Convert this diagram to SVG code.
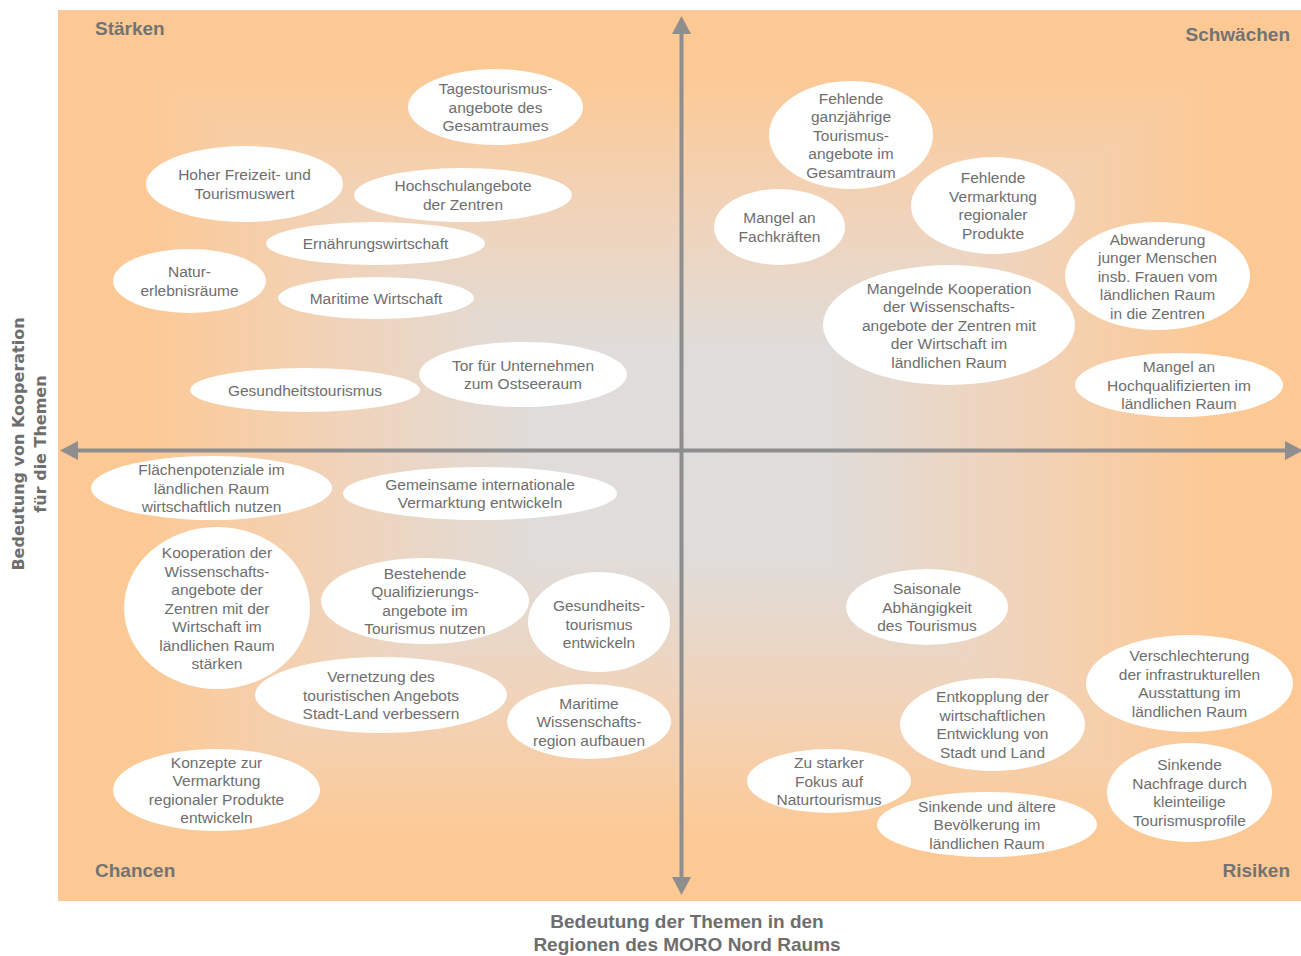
<svg xmlns="http://www.w3.org/2000/svg" width="1301" height="956" viewBox="0 0 1301 956">
<defs>
<style>
.node ellipse{fill:#ffffff;stroke:none}
.node text{font-family:"Liberation Sans",Arial,sans-serif;font-size:15.5px;fill:#6e6e6e;text-anchor:middle}
.quad{font-family:"Liberation Sans",Arial,sans-serif;font-size:19px;font-weight:bold;fill:#737373}
.axlab{font-family:"Liberation Sans",Arial,sans-serif;font-size:19px;font-weight:bold;fill:#6e6e6e;text-anchor:middle}
.axlabv{font-family:"DejaVu Sans",Verdana,sans-serif;font-size:16px;font-weight:bold;fill:#6e6e6e;text-anchor:middle}
.axis{stroke:#8e8e8e;stroke-width:4;fill:none}
</style>
<linearGradient id="gT" gradientUnits="userSpaceOnUse" x1="0" y1="10" x2="0" y2="455.5">
<stop offset="0" stop-color="#fdc894"/><stop offset="0.14" stop-color="#fcc995"/><stop offset="0.45" stop-color="#f1d3b9"/><stop offset="0.76" stop-color="#e0dcd9"/><stop offset="1" stop-color="#dfdddb"/>
</linearGradient>
<linearGradient id="gB" gradientUnits="userSpaceOnUse" x1="0" y1="901" x2="0" y2="455.5">
<stop offset="0" stop-color="#fdc894"/><stop offset="0.14" stop-color="#fcc995"/><stop offset="0.45" stop-color="#f1d3b9"/><stop offset="0.76" stop-color="#e0dcd9"/><stop offset="1" stop-color="#dfdddb"/>
</linearGradient>
<linearGradient id="gL" gradientUnits="userSpaceOnUse" x1="58" y1="0" x2="679.5" y2="0">
<stop offset="0" stop-color="#fdc894"/><stop offset="0.14" stop-color="#fcc995"/><stop offset="0.45" stop-color="#f1d3b9"/><stop offset="0.76" stop-color="#e0dcd9"/><stop offset="1" stop-color="#dfdddb"/>
</linearGradient>
<linearGradient id="gR" gradientUnits="userSpaceOnUse" x1="1301" y1="0" x2="679.5" y2="0">
<stop offset="0" stop-color="#fdc894"/><stop offset="0.14" stop-color="#fcc995"/><stop offset="0.45" stop-color="#f1d3b9"/><stop offset="0.76" stop-color="#e0dcd9"/><stop offset="1" stop-color="#dfdddb"/>
</linearGradient>
<radialGradient id="gBase" cx="0.5" cy="0.5" r="0.55">
<stop offset="0.3" stop-color="#dfdddb"/><stop offset="1" stop-color="#fdc894"/>
</radialGradient>
<marker id="arr" markerUnits="userSpaceOnUse" markerWidth="20" markerHeight="20" viewBox="0 -10 18 20" refX="0" refY="0" orient="auto-start-reverse">
<path d="M0,-9.5 L18,0 L0,9.5 Z" fill="#8e8e8e"/>
</marker>
</defs>

<g id="background">
<rect x="58" y="10" width="1243" height="891" fill="url(#gBase)"/>
<polygon points="58,10 1301,10 679.5,455.5" fill="url(#gT)"/>
<polygon points="58,901 1301,901 679.5,455.5" fill="url(#gB)"/>
<polygon points="58,10 58,901 679.5,455.5" fill="url(#gL)"/>
<polygon points="1301,10 1301,901 679.5,455.5" fill="url(#gR)"/>
</g>

<g id="axes">
<line class="axis" x1="681.5" y1="877" x2="681.5" y2="34" marker-start="url(#arr)" marker-end="url(#arr)"/>
<line class="axis" x1="78" y1="450.5" x2="1285" y2="450.5" marker-start="url(#arr)" marker-end="url(#arr)"/>
</g>

<g id="labels">
<text class="quad" x="95" y="35">Stärken</text>
<text class="quad" x="1290" y="41" text-anchor="end">Schwächen</text>
<text class="quad" x="95" y="877">Chancen</text>
<text class="quad" x="1290" y="877" text-anchor="end">Risiken</text>
<text class="axlab" x="687" y="928">Bedeutung der Themen in den</text>
<text class="axlab" x="687" y="951">Regionen des MORO Nord Raums</text>
<text class="axlabv" transform="translate(24,444) rotate(-90)" x="0" y="0">Bedeutung von Kooperation</text>
<text class="axlabv" transform="translate(46,444) rotate(-90)" x="0" y="0">für die Themen</text>
</g>

<g id="n1" class="node"><ellipse cx="495.5" cy="107" rx="87.5" ry="38"/><text><tspan x="495.5" y="94">Tagestourismus-</tspan><tspan x="495.5" y="112.5">angebote des</tspan><tspan x="495.5" y="131">Gesamtraumes</tspan></text></g>
<g id="n2" class="node"><ellipse cx="244.5" cy="184" rx="98.5" ry="38"/><text><tspan x="244.5" y="180.25">Hoher Freizeit- und</tspan><tspan x="244.5" y="198.75">Tourismuswert</tspan></text></g>
<g id="n3" class="node"><ellipse cx="463" cy="195" rx="109" ry="27"/><text><tspan x="463" y="191.25">Hochschulangebote</tspan><tspan x="463" y="209.75">der Zentren</tspan></text></g>
<g id="n4" class="node"><ellipse cx="375.5" cy="243.5" rx="109.5" ry="21.5"/><text x="375.5" y="249">Ernährungswirtschaft</text></g>
<g id="n5" class="node"><ellipse cx="189.5" cy="281" rx="76.5" ry="32"/><text><tspan x="189.5" y="277.25">Natur-</tspan><tspan x="189.5" y="295.75">erlebnisräume</tspan></text></g>
<g id="n6" class="node"><ellipse cx="376" cy="298" rx="98" ry="21"/><text x="376" y="303.5">Maritime Wirtschaft</text></g>
<g id="n7" class="node"><ellipse cx="305" cy="390" rx="115" ry="22"/><text x="305" y="395.5">Gesundheitstourismus</text></g>
<g id="n8" class="node"><ellipse cx="523" cy="374.5" rx="104" ry="32.5"/><text><tspan x="523" y="370.75">Tor für Unternehmen</tspan><tspan x="523" y="389.25">zum Ostseeraum</tspan></text></g>
<g id="n9" class="node"><ellipse cx="211.5" cy="488" rx="120.5" ry="32"/><text><tspan x="211.5" y="475">Flächenpotenziale im</tspan><tspan x="211.5" y="493.5">ländlichen Raum</tspan><tspan x="211.5" y="512">wirtschaftlich nutzen</tspan></text></g>
<g id="n10" class="node"><ellipse cx="480" cy="493.5" rx="137" ry="26.5"/><text><tspan x="480" y="489.75">Gemeinsame internationale</tspan><tspan x="480" y="508.25">Vermarktung entwickeln</tspan></text></g>
<g id="n11" class="node"><ellipse cx="217" cy="608" rx="93" ry="81"/><text><tspan x="217" y="558">Kooperation der</tspan><tspan x="217" y="576.5">Wissenschafts-</tspan><tspan x="217" y="595">angebote der</tspan><tspan x="217" y="613.5">Zentren mit der</tspan><tspan x="217" y="632">Wirtschaft im</tspan><tspan x="217" y="650.5">ländlichen Raum</tspan><tspan x="217" y="669">stärken</tspan></text></g>
<g id="n12" class="node"><ellipse cx="425" cy="601" rx="104" ry="43"/><text><tspan x="425" y="578.75">Bestehende</tspan><tspan x="425" y="597.25">Qualifizierungs-</tspan><tspan x="425" y="615.75">angebote im</tspan><tspan x="425" y="634.25">Tourismus nutzen</tspan></text></g>
<g id="n13" class="node"><ellipse cx="599" cy="622" rx="71" ry="50"/><text><tspan x="599" y="611">Gesundheits-</tspan><tspan x="599" y="629.5">tourismus</tspan><tspan x="599" y="648">entwickeln</tspan></text></g>
<g id="n14" class="node"><ellipse cx="381" cy="695" rx="126" ry="38"/><text><tspan x="381" y="682">Vernetzung des</tspan><tspan x="381" y="700.5">touristischen Angebots</tspan><tspan x="381" y="719">Stadt-Land verbessern</tspan></text></g>
<g id="n15" class="node"><ellipse cx="589" cy="721.5" rx="82" ry="37.5"/><text><tspan x="589" y="708.5">Maritime</tspan><tspan x="589" y="727">Wissenschafts-</tspan><tspan x="589" y="745.5">region aufbauen</tspan></text></g>
<g id="n16" class="node"><ellipse cx="216.5" cy="790" rx="103.5" ry="41"/><text><tspan x="216.5" y="767.75">Konzepte zur</tspan><tspan x="216.5" y="786.25">Vermarktung</tspan><tspan x="216.5" y="804.75">regionaler Produkte</tspan><tspan x="216.5" y="823.25">entwickeln</tspan></text></g>

<g id="n17" class="node"><ellipse cx="851" cy="135" rx="82" ry="54"/><text><tspan x="851" y="103.5">Fehlende</tspan><tspan x="851" y="122">ganzjährige</tspan><tspan x="851" y="140.5">Tourismus-</tspan><tspan x="851" y="159">angebote im</tspan><tspan x="851" y="177.5">Gesamtraum</tspan></text></g>
<g id="n18" class="node"><ellipse cx="779.5" cy="227" rx="65.5" ry="38"/><text><tspan x="779.5" y="223.25">Mangel an</tspan><tspan x="779.5" y="241.75">Fachkräften</tspan></text></g>
<g id="n19" class="node"><ellipse cx="993" cy="205.5" rx="82" ry="48.5"/><text><tspan x="993" y="183.25">Fehlende</tspan><tspan x="993" y="201.75">Vermarktung</tspan><tspan x="993" y="220.25">regionaler</tspan><tspan x="993" y="238.75">Produkte</tspan></text></g>
<g id="n20" class="node"><ellipse cx="1157.5" cy="276" rx="92.5" ry="54"/><text><tspan x="1157.5" y="244.5">Abwanderung</tspan><tspan x="1157.5" y="263">junger Menschen</tspan><tspan x="1157.5" y="281.5">insb. Frauen vom</tspan><tspan x="1157.5" y="300">ländlichen Raum</tspan><tspan x="1157.5" y="318.5">in die Zentren</tspan></text></g>
<g id="n21" class="node"><ellipse cx="949" cy="325" rx="126" ry="60"/><text><tspan x="949" y="293.5">Mangelnde Kooperation</tspan><tspan x="949" y="312">der Wissenschafts-</tspan><tspan x="949" y="330.5">angebote der Zentren mit</tspan><tspan x="949" y="349">der Wirtschaft im</tspan><tspan x="949" y="367.5">ländlichen Raum</tspan></text></g>
<g id="n22" class="node"><ellipse cx="1179" cy="385" rx="104" ry="32"/><text><tspan x="1179" y="372">Mangel an</tspan><tspan x="1179" y="390.5">Hochqualifizierten im</tspan><tspan x="1179" y="409">ländlichen Raum</tspan></text></g>
<g id="n23" class="node"><ellipse cx="927" cy="607" rx="81" ry="38"/><text><tspan x="927" y="594">Saisonale</tspan><tspan x="927" y="612.5">Abhängigkeit</tspan><tspan x="927" y="631">des Tourismus</tspan></text></g>
<g id="n24" class="node"><ellipse cx="1189.5" cy="683.5" rx="103.5" ry="48.5"/><text><tspan x="1189.5" y="661.25">Verschlechterung</tspan><tspan x="1189.5" y="679.75">der infrastrukturellen</tspan><tspan x="1189.5" y="698.25">Ausstattung im</tspan><tspan x="1189.5" y="716.75">ländlichen Raum</tspan></text></g>
<g id="n25" class="node"><ellipse cx="992.5" cy="724.5" rx="92.5" ry="46.5"/><text><tspan x="992.5" y="702.25">Entkopplung der</tspan><tspan x="992.5" y="720.75">wirtschaftlichen</tspan><tspan x="992.5" y="739.25">Entwicklung von</tspan><tspan x="992.5" y="757.75">Stadt und Land</tspan></text></g>
<g id="n26" class="node"><ellipse cx="829" cy="781" rx="82" ry="32"/><text><tspan x="829" y="768">Zu starker</tspan><tspan x="829" y="786.5">Fokus auf</tspan><tspan x="829" y="805">Naturtourismus</tspan></text></g>
<g id="n27" class="node"><ellipse cx="987" cy="824.5" rx="110" ry="32.5"/><text><tspan x="987" y="811.5">Sinkende und ältere</tspan><tspan x="987" y="830">Bevölkerung im</tspan><tspan x="987" y="848.5">ländlichen Raum</tspan></text></g>
<g id="n28" class="node"><ellipse cx="1189.5" cy="792.5" rx="82.5" ry="49.5"/><text><tspan x="1189.5" y="770.25">Sinkende</tspan><tspan x="1189.5" y="788.75">Nachfrage durch</tspan><tspan x="1189.5" y="807.25">kleinteilige</tspan><tspan x="1189.5" y="825.75">Tourismusprofile</tspan></text></g>
</svg>
